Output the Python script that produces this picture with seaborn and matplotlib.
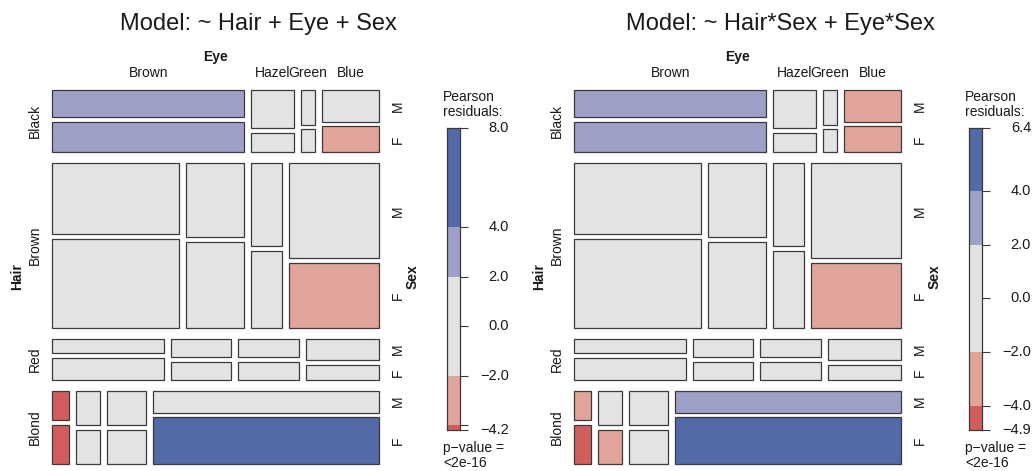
# Mosaic plots of hair / eye colour by sex, shaded by Pearson residuals
import numpy as np
import matplotlib
matplotlib.use("Agg")
import matplotlib.pyplot as plt
import matplotlib.transforms as mtransforms
from matplotlib.patches import Rectangle
import seaborn as sns

# Data (counts per hair x eye, one table per sex)
hair = ["Black", "Brown", "Red", "Blond"]
eye = ["Brown", "Hazel", "Green", "Blue"]
sex = ["M", "F"]

male = np.array([[32, 10, 3, 11],
                 [53, 25, 15, 50],
                 [10, 7, 7, 10],
                 [3, 5, 8, 30]])
female = np.array([[36, 5, 2, 9],
                   [66, 29, 14, 34],
                   [16, 7, 7, 7],
                   [4, 5, 8, 64]])

titles = ["Model: ~ Hair + Eye + Sex", "Model: ~ Hair*Sex + Eye*Sex"]
pvalues = ["<2e-16", "<2e-16"]

obs = np.stack([male, female], axis=2).astype(float)  # hair, eye, sex
n = obs.sum()

# Expected counts under each model
exp1 = n * np.einsum("i,j,k->ijk", obs.sum(axis=(1, 2)) / n,
                     obs.sum(axis=(0, 2)) / n, obs.sum(axis=(0, 1)) / n)
exp2 = (obs.sum(axis=1)[:, None, :] * obs.sum(axis=0)[None, :, :]
        / obs.sum(axis=(0, 1))[None, None, :])
residuals = [(obs - e) / np.sqrt(e) for e in (exp1, exp2)]

# Shading colours
dark_blue = "#5369A8"
light_blue = "#9FA0C7"
grey = "#E2E3E5"
light_red = "#E1A49A"
dark_red = "#D15E5C"
breaks = [-4, -2, 2, 4]


def shade(r):
    if r > 4:
        return dark_blue
    if r > 2:
        return light_blue
    if r < -4:
        return dark_red
    if r < -2:
        return light_red
    return grey


sns.set_theme(style="white")
plt.rcParams["font.family"] = ["Liberation Sans", "DejaVu Sans"]
plt.rcParams["text.color"] = "#1a1a1a"

W, H = 1032, 471
fig = plt.figure(figsize=(W / 100, H / 100), dpi=100)

# pixel layout of one panel (second panel shifted right)
shift = 522
mos_l, mos_r, mos_t, mos_b = 52, 379, 90, 464
leg_l, leg_r, leg_t, leg_b = 447, 459.5, 128, 430
mw, mh = mos_r - mos_l, mos_b - mos_t
gap_hair, gap_eye, gap_sex = 10.8 / mh, 7.2 / mw, 4.8 / mh
edge = "#3a3a3a"

for p in range(2):
    res = residuals[p]
    dx = p * shift
    ax = fig.add_axes([(mos_l + dx) / W, (H - mos_b) / H, mw / W, mh / H])
    ax.set_xlim(0, 1)
    ax.set_ylim(1, 0)
    ax.axis("off")

    hair_tot = obs.sum(axis=(1, 2))
    row_h = hair_tot / n * (1 - 3 * gap_hair)
    y0 = 0
    for i in range(len(hair)):
        row_eye = obs[i].sum(axis=1)
        col_w = row_eye / hair_tot[i] * (1 - 3 * gap_eye)
        x0 = 0
        for j in range(len(eye)):
            sh = obs[i, j] / obs[i, j].sum() * (row_h[i] - gap_sex)
            yy = y0
            for k in range(len(sex)):
                ax.add_patch(Rectangle((x0, yy), col_w[j], sh[k],
                                       facecolor=shade(res[i, j, k]),
                                       edgecolor=edge, linewidth=0.9,
                                       clip_on=False))
                if j == len(eye) - 1:
                    ax.text(1.058, yy + sh[k] / 2, sex[k], rotation=90,
                            ha="center", va="center", fontsize=10, clip_on=False)
                yy += sh[k] + gap_sex
            if i == 0:
                ax.text(x0 + col_w[j] / 2, -0.045, eye[j], ha="center",
                        va="center", fontsize=10, clip_on=False)
            x0 += col_w[j] + gap_eye
        ax.text(-0.052, y0 + row_h[i] / 2, hair[i], rotation=90, ha="center",
                va="center", fontsize=10, clip_on=False)
        y0 += row_h[i] + gap_hair

    ax.text(0.5, -0.088, "Eye", ha="center", va="center", fontsize=10,
            fontweight="bold", clip_on=False)
    ax.text(-0.107, 0.5, "Hair", rotation=90, ha="center", va="center",
            fontsize=10, fontweight="bold", clip_on=False)
    ax.text(1.104, 0.5, "Sex", rotation=90, ha="center", va="center",
            fontsize=10, fontweight="bold", clip_on=False)

    fig.text((258 + dx) / W, 1 - 30 / H, titles[p], ha="center",
             va="baseline", fontsize=17)

    # legend bar
    lax = fig.add_axes([(leg_l + dx) / W, (H - leg_b) / H,
                        (leg_r - leg_l) / W, (leg_b - leg_t) / H])
    lo, hi = res.min(), res.max()
    edges = [lo] + [b for b in breaks if lo < b < hi] + [hi]
    for a, b in zip(edges[:-1], edges[1:]):
        lax.bar(0.5, b - a, bottom=a, width=1.0, color=shade((a + b) / 2),
                linewidth=0)
    lax.set_xlim(0, 1)
    lax.set_ylim(lo, hi)
    lax.set_xticks([])
    ticks = [lo] + [t for t in [-4, -2, 0, 2, 4] if lo < t < hi] + [hi]
    lax.yaxis.tick_right()
    lax.set_yticks(ticks)
    lax.set_yticklabels([])
    lax.tick_params(axis="y", length=6, width=0.8, color=edge,
                    right=True, left=False)
    for s in lax.spines.values():
        s.set_color(edge)
        s.set_linewidth(0.9)
    trans = mtransforms.blended_transform_factory(fig.transFigure, lax.transData)
    for t in ticks:
        if t not in (lo, hi) and (abs(t - lo) < 0.5 or abs(t - hi) < 0.5):
            continue
        fig.text((509 + dx) / W, t, f"{t:.1f}".replace("-", "\u2212"),
                 transform=trans, ha="right", va="center", fontsize=10.5)

    fig.text((443 + dx) / W, 1 - 90 / H, "Pearson\nresiduals:", ha="left",
             va="top", fontsize=10, linespacing=1.05)
    fig.text((443 + dx) / W, 1 - 441 / H, "p\u2212value =\n" + pvalues[p],
             ha="left", va="top", fontsize=10, linespacing=1.05)

fig.savefig("out.png", dpi=100)
